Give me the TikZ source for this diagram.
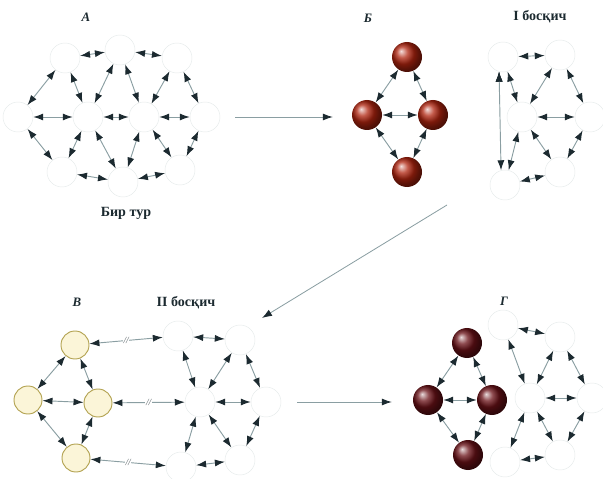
\documentclass[tikz,border=0pt]{standalone}
\usepackage{fontspec}
\setmainfont{Liberation Serif}
\usepackage{xcolor}
\definecolor{ink}{HTML}{1C2A30}
\definecolor{wire}{HTML}{8A9EA2}
\definecolor{rim}{HTML}{E6EBEB}
\definecolor{brick}{HTML}{B0240F}
\definecolor{wine}{HTML}{6A1117}
\definecolor{cream}{HTML}{FBF5D8}
\definecolor{olive}{HTML}{B3A352}
\usepackage{tikz}
\usetikzlibrary{arrows.meta,positioning}
\tikzset{
    vertex/.style={circle, draw=rim, fill=white, minimum size=0.9cm, inner sep=0pt},
    ball_b/.style={circle, shade, ball color=brick, minimum size=0.9cm, inner sep=0pt},
    ball_g/.style={circle, shade, ball color=wine, minimum size=0.9cm, inner sep=0pt},
    yolk/.style={circle, draw=olive, thick, fill=cream, minimum size=0.84cm, inner sep=0pt},
    link/.style={{Latex[length=3mm,width=2.1mm,color=ink]}-{Latex[length=3mm,width=2.1mm,color=ink]}, draw=wire, line width=0.8pt},
    step_arrow/.style={-{Latex[length=3mm,width=2.1mm,color=ink]}, draw=wire, line width=0.7pt},
    caption/.style={font=\fontsize{12}{14}\selectfont\bfseries, text=ink},
    letter/.style={font=\fontsize{11}{13}\selectfont\bfseries\itshape, text=ink}
}

\begin{document}
\begin{tikzpicture}[
    x=0.03cm, y=-0.03cm,
    cut_mark/.style={midway, fill=white, inner sep=0.6pt, font=\footnotesize\itshape, text=ink!75}
]
  \useasboundingbox (0,0) rectangle (603,479);

  % Labels
  \node[letter] (lbl_a) at (86,17) {А};
  \node[letter] (lbl_b) at (368,18) {Б};
  \node[caption] (lbl_s1) at (540,17) {I босқич};
  \node[caption] (lbl_round) at (126,213) {Бир тур};
  \node[letter] (lbl_v) at (77,302) {В};
  \node[caption] (lbl_s2) at (186,303) {II босқич};
  \node[letter] (lbl_g) at (504,301) {Г};

  % Round one: full lattice
  \node[vertex] (r1_t1) at (65,58) {};
  \node[vertex] (r1_t2) at (120,50) {};
  \node[vertex] (r1_t3) at (177,58) {};
  \node[vertex] (r1_m1) at (18,117) {};
  \node[vertex] (r1_m2) at (88,117) {};
  \node[vertex] (r1_m3) at (144,117) {};
  \node[vertex] (r1_m4) at (205,117) {};
  \node[vertex] (r1_b1) at (62,172) {};
  \node[vertex] (r1_b2) at (123,182) {};
  \node[vertex] (r1_b3) at (180,170) {};

  \path[link] (r1_t1) edge (r1_t2) (r1_t2) edge (r1_t3)
              (r1_m1) edge (r1_m2) (r1_m2) edge (r1_m3) (r1_m3) edge (r1_m4)
              (r1_b1) edge (r1_b2) (r1_b2) edge (r1_b3)
              (r1_t1) edge (r1_m1) (r1_t1) edge (r1_m2)
              (r1_t2) edge (r1_m2) (r1_t2) edge (r1_m3)
              (r1_t3) edge (r1_m3) (r1_t3) edge (r1_m4)
              (r1_b1) edge (r1_m1) (r1_b1) edge (r1_m2)
              (r1_b2) edge (r1_m2) (r1_b2) edge (r1_m3)
              (r1_b3) edge (r1_m3) (r1_b3) edge (r1_m4);

  % Graph B: red balls
  \node[ball_b] (b_top) at (407,57) {};
  \node[ball_b] (b_left) at (367,115) {};
  \node[ball_b] (b_right) at (433,115) {};
  \node[ball_b] (b_bot) at (407,172) {};

  \path[link] (b_top) edge (b_left) (b_top) edge (b_right) (b_left) edge (b_right)
              (b_left) edge (b_bot) (b_right) edge (b_bot);

  % Stage I
  \node[vertex] (s1_t1) at (503,57) {};
  \node[vertex] (s1_t2) at (560,55) {};
  \node[vertex] (s1_m1) at (522,117) {};
  \node[vertex] (s1_m2) at (590,117) {};
  \node[vertex] (s1_b0) at (505,185) {};
  \node[vertex] (s1_b1) at (560,172) {};

  \path[link] (s1_t1) edge (s1_t2) (s1_t1) edge (s1_m1) (s1_t2) edge (s1_m1)
              (s1_t2) edge (s1_m2) (s1_m1) edge (s1_m2) (s1_m1) edge (s1_b0)
              (s1_m1) edge (s1_b1) (s1_m2) edge (s1_b1) (s1_b0) edge (s1_b1)
              (s1_t1.255) edge (s1_b0.105);

  % Graph V: yellow nodes
  \node[yolk] (v_top) at (75,345) {};
  \node[yolk] (v_left) at (28,400) {};
  \node[yolk] (v_right) at (98,403) {};
  \node[yolk] (v_bot) at (76,458) {};

  \path[link] (v_top) edge (v_left) (v_top) edge (v_right) (v_left) edge (v_right)
              (v_left) edge (v_bot) (v_right) edge (v_bot);

  % Stage II
  \node[vertex] (s2_t1) at (178,336) {};
  \node[vertex] (s2_t2) at (240,340) {};
  \node[vertex] (s2_m1) at (200,402) {};
  \node[vertex] (s2_m2) at (266,402) {};
  \node[vertex] (s2_b1) at (181,467) {};
  \node[vertex] (s2_b2) at (240,460) {};

  \path[link] (s2_t1) edge (s2_t2) (s2_t1) edge (s2_m1) (s2_t2) edge (s2_m1)
              (s2_t2) edge (s2_m2) (s2_m1) edge (s2_m2) (s2_m1) edge (s2_b1)
              (s2_m1) edge (s2_b2) (s2_m2) edge (s2_b2) (s2_b1) edge (s2_b2);

  % Cut links from graph V into stage II
  \draw[link] (v_top) -- (s2_t1) node[cut_mark] {//};
  \draw[link] (v_right) -- (s2_m1) node[cut_mark] {//};
  \draw[link] (v_bot) -- (s2_b1) node[cut_mark] {//};

  % Graph G: dark balls and remaining lattice
  \node[ball_g] (g_top) at (467,343) {};
  \node[ball_g] (g_left) at (428,400) {};
  \node[ball_g] (g_right) at (492,400) {};
  \node[ball_g] (g_bot) at (468,455) {};

  \path[link] (g_top) edge (g_left) (g_top) edge (g_right) (g_left) edge (g_right)
              (g_left) edge (g_bot) (g_right) edge (g_bot);

  \node[vertex] (g_t1) at (503,325) {};
  \node[vertex] (g_t2) at (560,337) {};
  \node[vertex] (g_m1) at (530,398) {};
  \node[vertex] (g_m2) at (592,398) {};
  \node[vertex] (g_b1) at (505,462) {};
  \node[vertex] (g_b2) at (560,455) {};

  \path[link] (g_t1) edge (g_t2) (g_t1) edge (g_m1) (g_t2) edge (g_m1)
              (g_t2) edge (g_m2) (g_m1) edge (g_m2) (g_m1) edge (g_b1)
              (g_m1) edge (g_b2) (g_m2) edge (g_b2) (g_b1) edge (g_b2);

  % Steps between the panels
  \coordinate (diag_from) at (447,205);
  \coordinate (diag_to) at (262,318);
  \draw[step_arrow, shorten <=0.45cm, shorten >=0.57cm] (r1_m4.east) -- (r1_m4.east -| b_left.west);
  \draw[step_arrow] (diag_from) -- (diag_to);
  \draw[step_arrow, shorten <=0.48cm, shorten >=0.63cm] (s2_m2.east) -- (s2_m2.east -| g_left.west);

\end{tikzpicture}
\end{document}
